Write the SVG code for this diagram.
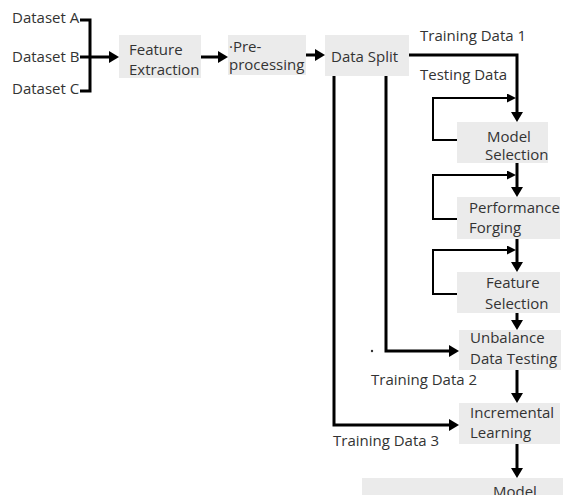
<svg xmlns="http://www.w3.org/2000/svg" width="563" height="495" viewBox="0 0 563 495">
<style>
  .t { font-family: "Open Sans", "Noto Sans", "DejaVu Sans", sans-serif; font-size: 15px; fill: #333333; }
  .box { fill: #ebebeb; stroke: none; }
  .c { fill: none; stroke: #000000; stroke-width: 3; }
  .c2 { fill: none; stroke: #000000; stroke-width: 2; }
</style>
<defs>
  <marker id="arr" markerUnits="userSpaceOnUse" markerWidth="12" markerHeight="12" refX="4" refY="6" orient="auto">
    <path d="M0,0 L10,6 L0,12 z" fill="#000000"/>
  </marker>
  <marker id="arrs" markerUnits="userSpaceOnUse" markerWidth="10" markerHeight="10" refX="3" refY="4.5" orient="auto">
    <path d="M0,0 L9,4.5 L0,9 z" fill="#000000"/>
  </marker>
</defs>
<rect width="563" height="495" fill="#ffffff"/>

<g id="datasets">
  <text class="t" x="12" y="23">Dataset A</text>
  <text class="t" x="12" y="62">Dataset B</text>
  <text class="t" x="12" y="94">Dataset C</text>
</g>
<g id="feature-extraction">
  <rect class="box" x="119" y="35" width="82" height="43"/>
  <text class="t" x="129" y="55">Feature</text>
  <text class="t" x="129" y="75">Extraction</text>
</g>
<g id="preprocessing">
  <rect class="box" x="228" y="35" width="78" height="40"/>
  <text class="t" x="229" y="52">·Pre-</text>
  <text class="t" x="229" y="70">processing</text>
</g>
<g id="data-split">
  <rect class="box" x="325" y="35" width="84" height="41"/>
  <text class="t" x="331" y="62">Data Split</text>
</g>
<g id="model-selection">
  <rect class="box" x="457" y="122" width="91" height="41"/>
  <text class="t" x="487" y="142">Model</text>
  <text class="t" x="485" y="160">Selection</text>
</g>
<g id="performance-forging">
  <rect class="box" x="457" y="197" width="103" height="42"/>
  <text class="t" x="469" y="213">Performance</text>
  <text class="t" x="469" y="233">Forging</text>
</g>
<g id="feature-selection">
  <rect class="box" x="457" y="272" width="103" height="41"/>
  <text class="t" x="486" y="288">Feature</text>
  <text class="t" x="485" y="309">Selection</text>
</g>
<g id="unbalance-data-testing">
  <rect class="box" x="459" y="330" width="102" height="40"/>
  <text class="t" x="470" y="343">Unbalance</text>
  <text class="t" x="470" y="364">Data Testing</text>
</g>
<g id="incremental-learning">
  <rect class="box" x="459" y="403" width="101" height="41"/>
  <text class="t" x="470" y="418">Incremental</text>
  <text class="t" x="470" y="438">Learning</text>
</g>
<g id="model">
  <rect class="box" x="362" y="478" width="201" height="20"/>
  <text class="t" x="493" y="497">Model</text>
</g>

<g id="connectors">
  <path class="c" d="M80,20 H90 V91 H80"/>
  <path class="c" d="M80,57 H90"/>
  <path class="c" d="M90,57 H113" marker-end="url(#arr)"/>
  <path class="c" d="M201,57 H222" marker-end="url(#arr)"/>
  <path class="c" d="M306,55 H319" marker-end="url(#arr)"/>
  <path class="c" d="M409,55 H517 V116" marker-end="url(#arr)"/>
  <path class="c2" d="M457,140 H433 V98 H510" marker-end="url(#arrs)"/>
  <path class="c" d="M517,163 V191" marker-end="url(#arr)"/>
  <path class="c2" d="M457,219 H433 V175 H510" marker-end="url(#arrs)"/>
  <path class="c" d="M517,239 V266" marker-end="url(#arr)"/>
  <path class="c2" d="M457,294 H433 V250 H510" marker-end="url(#arrs)"/>
  <path class="c" d="M517,313 V324" marker-end="url(#arr)"/>
  <path class="c" d="M386,76 V351 H453" marker-end="url(#arr)"/>
  <path class="c" d="M517,370 V397" marker-end="url(#arr)"/>
  <path class="c" d="M334,76 V425 H453" marker-end="url(#arr)"/>
  <path class="c" d="M517,444 V472" marker-end="url(#arr)"/>
</g>

<g id="labels">
  <text class="t" x="420" y="41">Training Data 1</text>
  <text class="t" x="420" y="80">Testing Data</text>
  <text class="t" x="371" y="385">Training Data 2</text>
  <text class="t" x="333" y="446">Training Data 3</text>
  <circle cx="372" cy="351" r="1.2" fill="#333333"/>
</g>
</svg>
